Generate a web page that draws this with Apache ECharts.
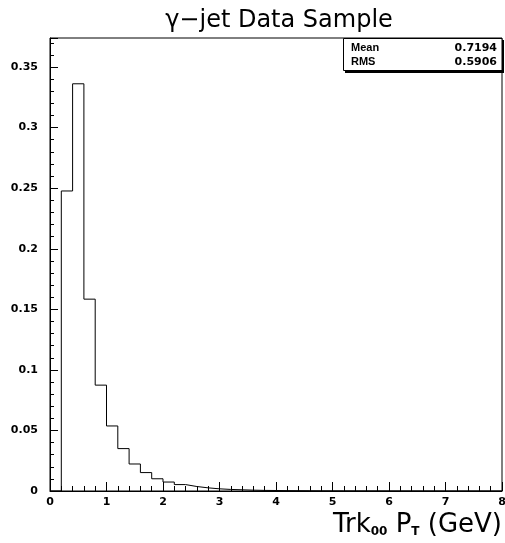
<!DOCTYPE html>
<html>
<head>
<meta charset="utf-8">
<script src="https://cdn.jsdelivr.net/npm/echarts@6.0.0/dist/echarts.min.js"></script>
<style>
  html, body { margin: 0; padding: 0; background: #fff; }
  #root { width: 505px; height: 543px; }
</style>
</head>
<body>
<div id="root"></div>
<script>
// bin low edges (GeV), width 0.2
const binEdges = [
  0.0, 0.2, 0.4, 0.6, 0.8, 1.0, 1.2, 1.4, 1.6, 1.8,
  2.0, 2.2, 2.4, 2.6, 2.8, 3.0, 3.2, 3.4, 3.6, 3.8,
  4.0, 4.2, 4.4, 4.6, 4.8, 5.0, 5.2, 5.4, 5.6, 5.8,
  6.0, 6.2, 6.4, 6.6, 6.8, 7.0, 7.2, 7.4, 7.6, 7.8
]
// normalised bin contents
const binValues = [
  0, 0.2477, 0.3362, 0.1584, 0.0874, 0.0537, 0.0350, 0.0223, 0.0152, 0.0101,
  0.0074, 0.0053, 0.0037, 0.0026, 0.0018, 0.0013, 0.0010, 0.0007, 0.0005, 0.0004,
  0.0003, 0.00025, 0.0002, 0.00015, 0.00012, 0.0001, 0.00008, 0.00007, 0.00006, 0.00005,
  0.00004, 0.00004, 0.00003, 0.00003, 0.00002, 0.00002, 0.00002, 0.00001, 0.00001, 0.00001
]
const binWidth = 0.2
const yTicks = [0, 0.05, 0.1, 0.15, 0.2, 0.25, 0.3, 0.35]
const xTicks = [0, 1, 2, 3, 4, 5, 6, 7, 8]
const statLabels = ['Mean', 'RMS']
const statValues = ['0.7194', '0.5906']
const titleText = 'γ−jet Data Sample'

const tickFont = 'DejaVu Sans'

// step outline: each point at a bin's low edge, plus the last high edge
const stepData = binEdges.map((x, i) => [x, binValues[i]])
stepData.push([binEdges[binEdges.length - 1] + binWidth, binValues[binValues.length - 1]])

const near = (v, list) => list.some(t => Math.abs(t - v) < 1e-6)

const option = {
  animation: false,
  backgroundColor: '#fff',
  grid: {
    left: 50, right: 3, top: 38, bottom: 52,
    outerBoundsMode: 'none',
    containLabel: false,
    show: true, borderColor: '#000', borderWidth: 1
  },
  xAxis: {
    type: 'value', min: 0, max: 8, interval: 1,
    axisLine: { show: true, lineStyle: { color: '#000', width: 1 } },
    axisTick: { show: true, inside: true, length: 9, lineStyle: { color: '#000' } },
    minorTick: { show: true, splitNumber: 5, length: 5, lineStyle: { color: '#000' } },
    splitLine: { show: false },
    axisLabel: {
      margin: 6, color: '#000', fontFamily: tickFont, fontWeight: 'bold', fontSize: 11,
      showMaxLabel: true,
      formatter: v => near(v, xTicks) ? String(v) : ''
    }
  },
  yAxis: {
    type: 'value', min: 0, max: 0.374, interval: 0.05,
    axisLine: { show: true, lineStyle: { color: '#000', width: 1 } },
    axisTick: { show: true, inside: true, length: 8, lineStyle: { color: '#000' } },
    minorTick: { show: true, splitNumber: 5, length: 4, lineStyle: { color: '#000' } },
    splitLine: { show: false },
    axisLabel: {
      margin: 12, color: '#000', fontFamily: tickFont, fontWeight: 'bold', fontSize: 11,
      formatter: v => near(v, yTicks) ? String(+v.toFixed(2)) : ''
    }
  },
  series: [{
    type: 'line',
    step: 'end',
    data: stepData,
    symbol: 'none',
    lineStyle: { color: '#000', width: 1 },
    clip: true
  }],
  graphic: [
    {
      type: 'text', x: 279, y: 21,
      style: { text: titleText, fill: '#000', font: '24px "DejaVu Sans"', align: 'center', verticalAlign: 'middle' }
    },
    {
      type: 'rect', shape: { x: 345, y: 40, width: 159, height: 33 },
      style: { fill: '#000' }
    },
    {
      type: 'rect', shape: { x: 343.5, y: 38.5, width: 158.5, height: 32 },
      style: { fill: '#fff', stroke: '#000', lineWidth: 1 }
    },
    ...statLabels.map((s, i) => ({
      type: 'text', x: 351, y: 48 + i * 14,
      style: { text: s, fill: '#000', font: 'bold 11px "Liberation Sans"', verticalAlign: 'middle' }
    })),
    ...statValues.map((s, i) => ({
      type: 'text', x: 497, y: 48 + i * 14,
      style: { text: s, fill: '#000', font: 'bold 11px "DejaVu Sans"', align: 'right', verticalAlign: 'middle' }
    })),
    {
      type: 'text', right: 3, top: 512,
      style: {
        text: '{a|Trk}{s|00}{a| P}{s|T}{a| (GeV)}',
        fill: '#000',
        rich: {
          a: { fontFamily: 'DejaVu Sans', fontSize: 26, lineHeight: 30, verticalAlign: 'bottom', fill: '#000' },
          s: { fontFamily: 'DejaVu Sans', fontSize: 12, fontWeight: 'bold', lineHeight: 18, verticalAlign: 'bottom', fill: '#000' }
        }
      }
    }
  ]
}

const chart = echarts.init(document.getElementById('root'), null, { renderer: 'canvas' })
chart.setOption(option)
</script>
</body>
</html>
